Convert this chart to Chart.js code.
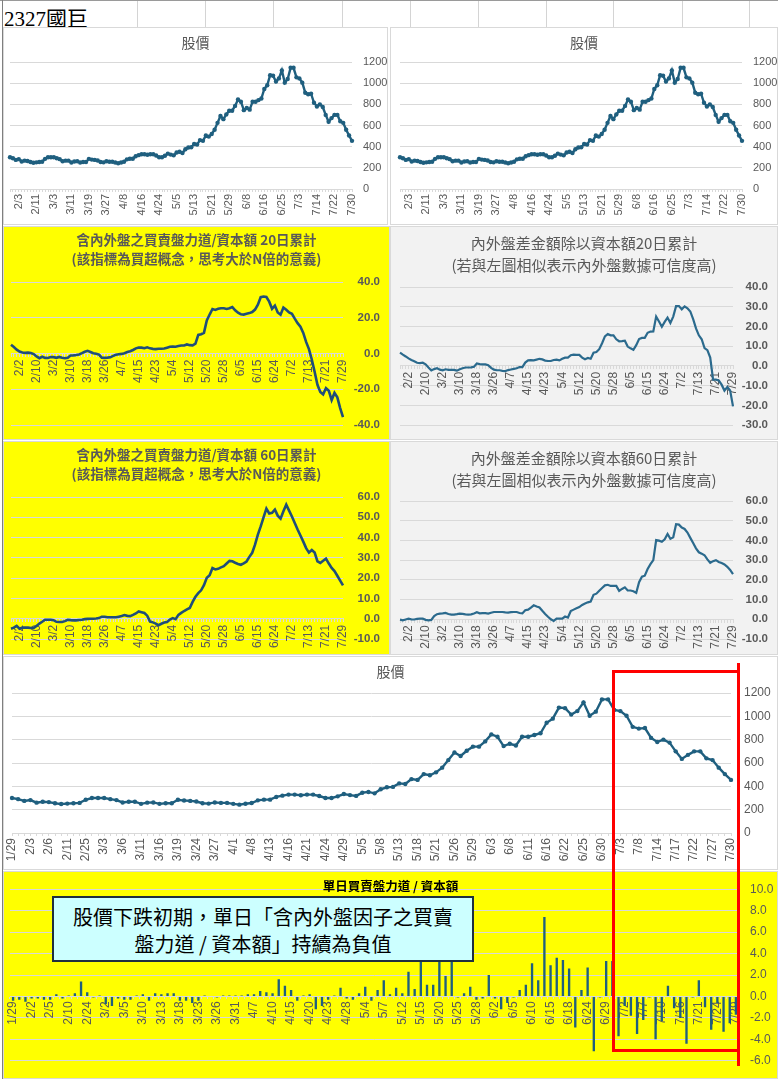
<!DOCTYPE html>
<html>
<head>
<meta charset="utf-8">
<script src="https://cdn.jsdelivr.net/npm/chart.js@4.4.1/dist/chart.umd.min.js"></script>
<style>
  body { margin: 0; width: 778px; height: 1079px; position: relative; overflow: hidden; background: #fff;
         font-family: "Noto Sans CJK TC", "Liberation Sans", sans-serif; }
  .panel { position: absolute; box-shadow: inset 0 0 0 1px #d9d9d9; }
  .panel .cv { position: absolute; left: 0; top: 0; width: 100%; height: 100%; }
  .ttl { position: absolute; left: 0; width: 100%; text-align: center; color: #595959; white-space: nowrap; z-index: 2; }
  .ttl.bold { font-weight: bold; font-size: 13.5px; line-height: 19px; }
  .ttl.reg { font-size: 15px; line-height: 22px; }
  .ttl.price { font-size: 14px; line-height: 20px; }
  .yellow { background: #ffff00; }
  .gray { background: #f2f2f2; }
  .white { background: #fff; }
  .vline { position: absolute; top: 1px; height: 26px; width: 1px; background: #d4d4d4; }
  #sheetTitle { position: absolute; left: 4px; top: 2px; font: 21px "Liberation Serif", "Noto Sans CJK TC", serif; color: #000; }
  #note { position: absolute; left: 52px; top: 896px; width: 422px; height: 66px; box-sizing: border-box;
          border: 2px solid #1f2f3f; background: #ccffff; text-align: center; font-size: 20px; line-height: 27px;
          padding-top: 5px; color: #000; z-index: 3; }
  #redBox { position: absolute; left: 612px; top: 670px; width: 128px; height: 382px; box-sizing: border-box;
            border: 3px solid #ff0000; z-index: 4; }
  #redLine { position: absolute; left: 737px; top: 663px; width: 3px; height: 403px; background: #ff0000; z-index: 4; }
  #barTitle { position: absolute; left: 0; width: 100%; top: 5px; text-align: center; font-size: 12.5px; font-weight: bold; color: #000; z-index: 2; }
</style>
</head>
<body>
<div style="position:absolute;left:0;top:0;width:778px;height:1px;background:#9a9a9a"></div>
<div style="position:absolute;left:2px;top:0;width:1px;height:1079px;background:#7f7f7f"></div>
<div id="sheetTitle">2327國巨</div>

<div class="panel white" style="left:3px;top:27px;width:385px;height:198px">
  <div class="ttl price" style="top:5px">股價</div>
  <div class="cv"><canvas id="priceA"></canvas></div>
</div>
<div class="panel white" style="left:390px;top:27px;width:388px;height:198px">
  <div class="ttl price" style="top:5px">股價</div>
  <div class="cv"><canvas id="priceB"></canvas></div>
</div>

<div class="panel yellow" style="left:3px;top:226px;width:387px;height:214px">
  <div class="ttl bold" style="top:4px">含內外盤之買賣盤力道/資本額 20日累計</div>
  <div class="ttl bold" style="top:23px">(該指標為買超概念，思考大於N倍的意義)</div>
  <div class="cv"><canvas id="cum20L"></canvas></div>
</div>
<div class="panel gray" style="left:390px;top:226px;width:388px;height:214px">
  <div class="ttl reg" style="top:6px">內外盤差金額除以資本額20日累計</div>
  <div class="ttl reg" style="top:28px">(若與左圖相似表示內外盤數據可信度高)</div>
  <div class="cv"><canvas id="cum20R"></canvas></div>
</div>

<div class="panel yellow" style="left:3px;top:441px;width:387px;height:214px">
  <div class="ttl bold" style="top:4px">含內外盤之買賣盤力道/資本額 60日累計</div>
  <div class="ttl bold" style="top:23px">(該指標為買超概念，思考大於N倍的意義)</div>
  <div class="cv"><canvas id="cum60L"></canvas></div>
</div>
<div class="panel gray" style="left:390px;top:441px;width:388px;height:214px">
  <div class="ttl reg" style="top:6px">內外盤差金額除以資本額60日累計</div>
  <div class="ttl reg" style="top:28px">(若與左圖相似表示內外盤數據可信度高)</div>
  <div class="cv"><canvas id="cum60R"></canvas></div>
</div>

<div class="panel white" style="left:3px;top:656px;width:775px;height:214px">
  <div class="ttl price" style="top:5px">股價</div>
  <div class="cv"><canvas id="priceBig"></canvas></div>
</div>

<div class="panel yellow" style="left:3px;top:871px;width:775px;height:208px">
  <div id="barTitle">單日買賣盤力道 / 資本額</div>
  <div class="cv"><canvas id="dailyBar"></canvas></div>
</div>

<div id="note">股價下跌初期，單日「含內外盤因子之買賣<br>盤力道 / 資本額」持續為負值</div>
<div id="redBox"></div>
<div id="redLine"></div>

<script>
const dates = ['1/29','1/30','2/1','2/3','2/4','2/5','2/6','2/7','2/8','2/11',
  '2/12','2/22','2/25','2/26','2/27','3/3','3/4','3/5','3/6','3/9',
  '3/10','3/11','3/12','3/13','3/16','3/17','3/18','3/19','3/20','3/23',
  '3/24','3/25','3/26','3/27','3/30','3/31','4/1','4/2','4/7','4/8',
  '4/9','4/10','4/13','4/14','4/15','4/16','4/17','4/20','4/21','4/22',
  '4/23','4/24','4/27','4/28','4/29','4/30','5/4','5/5','5/6','5/7',
  '5/8','5/11','5/12','5/13','5/14','5/15','5/18','5/19','5/20','5/21',
  '5/22','5/25','5/26','5/27','5/28','5/29','6/1','6/2','6/3','6/4',
  '6/5','6/8','6/9','6/10','6/11','6/12','6/15','6/16','6/17','6/19',
  '6/22','6/23','6/24','6/25','6/26','6/29','6/30','7/1','7/2','7/3',
  '7/6','7/7','7/8','7/9','7/13','7/14','7/15','7/16','7/17','7/20',
  '7/21','7/22','7/23','7/24','7/27','7/28','7/29','7/30'];

const price = [300,290,275,282,260,268,265,255,248,252,
  255,258,285,300,300,300,290,282,262,268,
  268,250,260,262,250,255,255,285,278,275,
  270,255,252,262,258,258,250,243,251,257,
  280,286,286,309,320,329,329,323,329,329,
  317,300,300,314,334,325,318,345,352,340,
  375,392,395,425,420,462,455,505,495,520,
  560,625,690,660,705,740,740,785,845,825,
  745,765,750,825,825,840,855,945,980,1075,
  1070,1015,1045,1120,1005,1040,1145,1145,1055,1045,
  1005,910,895,900,815,780,800,775,700,635,
  670,700,700,640,625,560,505,455];

// 含內外盤之買賣盤力道/資本額 20日累計
const cum20Buy = [4.9,3.6,2.2,1.1,0.6,0.4,0.5,0.3,-0.3,-1.6,
  -2.6,-1.8,-2.4,-2.5,-2.0,-2.0,-2.4,-1.9,-2.4,-2.6,
  -2.3,-1.1,-1.0,-0.8,-0.5,0.2,1.0,1.5,0.9,0.2,
  -0.1,-0.6,-2.3,-2.4,-2.3,-2.1,-1.3,-0.7,-0.4,-0.2,
  0.2,0.9,1.3,2.0,2.9,3.4,3.3,3.0,3.5,2.9,
  2.6,2.5,2.7,2.7,2.8,3.3,3.8,3.9,3.8,4.2,
  4.5,4.5,5.1,4.7,4.6,5.5,10.4,10.8,11.6,18.5,
  21.8,24.9,24.4,25.0,25.3,25.3,24.9,25.3,26.0,24.2,
  22.8,22.0,21.8,22.2,22.6,23.2,24.6,27.3,31.5,31.9,
  31.6,29.0,25.0,26.8,23.0,21.7,25.7,24.5,23.0,22.2,
  19.5,17.0,15.0,11.5,6.5,2.5,-3.3,-10.2,-17.5,-21.5,
  -22.8,-19.3,-20.8,-26.0,-22.0,-24.5,-30.5,-35.6];

// 內外盤差金額除以資本額 20日累計
const cum20Diff = [6.7,5.7,4.8,3.8,3.0,2.4,1.6,1.4,1.6,0.8,
  -0.8,-2.3,-1.6,-1.2,-1.9,-2.2,-1.7,-2.0,-2.0,-2.0,
  -2.4,-1.7,-1.2,-0.8,-0.8,-0.7,-0.4,1.2,0.9,0.8,
  0.8,0.4,-1.0,-1.9,-2.2,-2.2,-2.5,-2.6,-2.1,-1.8,
  -1.5,-1.2,-0.6,-0.6,1.7,2.8,2.9,2.8,3.2,3.6,
  3.3,2.7,2.5,2.5,3.0,3.2,2.8,3.6,4.2,4.2,
  5.4,5.7,5.6,5.6,4.2,3.4,4.0,3.6,6.7,7.0,
  8.5,11.5,15.0,16.2,15.5,15.5,13.5,12.5,12.6,12.8,
  9.8,8.9,8.2,10.5,13.6,14.2,14.2,16.8,17.4,17.5,
  25.0,22.5,19.8,22.3,24.5,21.8,25.0,30.3,30.3,28.7,
  30.2,29.2,27.6,23.7,19.0,15.5,13.5,9.0,8.0,4.2,
  -7.0,-7.0,-7.4,-9.5,-12.5,-10.7,-12.5,-20.5];

// 含內外盤之買賣盤力道/資本額 60日累計
const cum60Buy = [-4.9,-4.4,-3.5,-4.9,-4.4,-4.3,-4.4,-4.6,-4.6,-3.6,
  -2.4,-1.5,-0.5,-0.5,-0.5,-0.7,-1.5,-1.6,-1.6,-1.2,
  -0.5,-0.7,-0.8,-0.8,-0.6,-0.5,-0.2,-0.1,0.0,0.0,
  0.1,0.3,1.0,1.0,0.7,0.7,0.7,0.7,1.0,1.3,
  1.8,1.4,1.3,1.9,2.6,3.6,3.2,2.8,1.5,-1.4,
  -1.8,-2.4,-3.2,-2.5,-1.9,-1.6,-0.4,0.3,-0.2,1.9,
  2.9,3.8,4.6,5.3,8.3,10.8,12.6,14.0,16.5,20.2,
  21.4,25.0,24.3,24.6,25.3,25.9,27.2,28.5,28.3,27.6,
  27.0,26.6,27.3,28.2,30.5,32.5,36.5,41.5,45.5,50.0,
  54.3,51.9,52.2,53.8,50.8,49.3,53.0,56.2,53.3,50.4,
  47.2,44.0,41.0,38.0,34.8,32.6,33.9,32.6,28.3,27.5,
  28.6,29.6,27.2,25.0,23.5,21.2,18.8,16.4];

// 內外盤差金額除以資本額 60日累計
const cum60Diff = [-0.2,-0.5,-0.1,0.3,0.0,-0.1,0.2,0.3,0.3,-0.3,
  -0.5,-0.3,1.6,2.6,2.9,3.0,3.2,2.7,2.4,2.4,
  2.6,2.9,2.7,2.5,2.4,2.5,2.9,3.6,3.0,3.1,
  3.1,2.9,3.3,3.7,3.7,3.7,3.7,3.5,3.4,3.6,
  3.7,3.7,3.2,3.0,4.6,4.9,5.9,7.1,6.5,6.0,
  4.3,2.7,1.3,0.0,-0.8,0.3,0.3,0.3,1.4,0.9,
  4.2,4.9,5.6,6.2,7.3,8.0,8.6,9.0,12.4,13.0,
  14.5,15.9,17.2,17.5,16.9,16.9,16.9,14.4,15.4,16.2,
  14.6,14.6,14.2,13.4,18.8,21.6,22.1,25.5,28.0,30.0,
  40.2,39.9,39.3,40.6,43.3,40.8,41.6,48.2,48.0,46.5,
  45.8,44.0,41.3,38.7,36.0,34.0,33.3,32.5,30.4,28.6,
  29.5,30.0,29.1,28.5,27.8,26.6,25.0,22.9];

// 單日買賣盤力道 / 資本額
const dailyBuy = [-0.4,-0.3,-0.5,-0.2,-0.2,-0.3,-0.3,0.2,-0.2,0.1,
  0.3,1.4,0.4,-0.1,0.1,-0.7,-0.9,-0.2,-0.3,-0.3,
  0.1,0.2,-0.4,0.3,0.2,0.3,0.3,-0.4,-0.4,-0.6,
  -0.4,0.1,-0.05,-0.1,0.1,0.1,0.1,0.1,0.2,0.2,
  0.5,0.4,0.3,1.6,1.0,0.6,-0.4,0.1,0.2,-1.2,
  -0.9,-0.3,0.1,0.8,-0.2,-0.3,0.3,0.9,-0.4,0.6,
  1.5,0.2,0.8,0.3,2.3,0.7,4.2,1.1,1.1,3.6,
  1.9,3.3,-0.1,0.3,0.9,-0.3,-0.2,2.0,-0.2,-1.2,
  -0.6,-0.1,0.6,1.1,3.1,1.5,7.4,2.9,3.6,3.4,
  2.6,-2.9,0.6,2.7,-5.1,-0.1,3.3,3.3,-3.7,-0.9,
  -1.8,-3.5,-2.2,-0.1,-4.0,-2.3,1.0,-1.1,-2.0,-4.4,
  -0.1,1.5,-1.0,-3.1,-0.6,-3.3,-2.5,-1.7];

const cumTicks = ['2/2','2/10','3/2','3/10','3/18','3/26','4/7','4/15','4/23','5/4',
  '5/12','5/20','5/28','6/5','6/15','6/24','7/2','7/13','7/21','7/29'];
const barTicks = ['1/29','2/2','2/5','2/10','2/24','3/2','3/5','3/10','3/13','3/18',
  '3/23','3/26','3/31','4/7','4/10','4/15','4/20','4/23','4/28','5/4',
  '5/7','5/12','5/15','5/20','5/25','5/28','6/2','6/5','6/10','6/15',
  '6/18','6/24','6/29','7/2','7/7','7/10','7/16','7/21','7/24','7/29'];

const GRID = '#d9d9d9';
const PRICE_C = '#1f5f7f';
Chart.defaults.font.family = '"Liberation Sans", "Noto Sans CJK TC", sans-serif';
Chart.defaults.color = '#595959';
Chart.defaults.animation = false;
Chart.defaults.plugins.legend.display = false;
Chart.defaults.plugins.tooltip.enabled = false;

function priceChart(id, pad, yWidth, xHeight, every, offset, size, yPad) {
  return new Chart(document.getElementById(id), {
    type: 'line',
    data: {
      labels: dates,
      datasets: [{data: price, borderColor: PRICE_C, backgroundColor: PRICE_C, borderWidth: 2.4,
                  pointRadius: 2.2, pointBorderWidth: 0, tension: 0}]
    },
    options: {
      responsive: true, maintainAspectRatio: false,
      layout: {padding: pad},
      scales: {
        x: {
          ticks: {autoSkip: false, minRotation: 90, maxRotation: 90, padding: 2, font: {size: size},
                  callback: (v, i) => i % every === offset ? dates[i] : ''},
          grid: {drawOnChartArea: false, color: GRID, tickLength: 3},
          border: {color: GRID},
          afterFit: s => { s.height = xHeight; }
        },
        y: {
          position: 'right', min: 0, max: 1200,
          ticks: {stepSize: 200, padding: yPad, font: {size: size}, callback: v => String(v)},
          grid: {color: GRID, drawTicks: false},
          border: {display: false},
          afterFit: s => { s.width = yWidth; }
        }
      }
    }
  });
}

function cumChart(id, values, color, lw, yMin, yMax, step, pad, yWidth) {
  return new Chart(document.getElementById(id), {
    type: 'line',
    data: {
      labels: dates,
      datasets: [{data: values, borderColor: color, borderWidth: lw, pointRadius: 0, tension: 0}]
    },
    options: {
      responsive: true, maintainAspectRatio: false,
      layout: {padding: pad},
      scales: {
        x: {
          position: {y: 0},
          ticks: {autoSkip: false, minRotation: 90, maxRotation: 90, padding: 3, font: {size: 12},
                  callback: (v, i) => i % 6 === 3 ? cumTicks[(i - 3) / 6] : ''},
          grid: {drawOnChartArea: false, color: GRID, tickLength: 3},
          border: {color: GRID}
        },
        y: {
          position: 'right', min: yMin, max: yMax,
          ticks: {stepSize: step, padding: 8, crossAlign: 'far', font: {size: 11.5, weight: 'bold'},
                  callback: v => v.toFixed(1)},
          grid: {color: GRID, drawTicks: false},
          border: {display: false},
          afterFit: s => { s.width = yWidth; }
        }
      }
    }
  });
}

priceChart('priceA', {left: 7, top: 35, right: 0, bottom: 0}, 36, 36, 6, 3, 11, 11);
priceChart('priceB', {left: 10, top: 35, right: 0, bottom: 0}, 36, 36, 6, 3, 11, 11);

cumChart('cum20L', cum20Buy, '#1f4e79', 2.6, -40, 40, 20, {left: 8, top: 56, right: 10, bottom: 13}, 37);
cumChart('cum20R', cum20Diff, '#2b6a8d', 2.2, -30, 40, 10, {left: 10, top: 61, right: 10, bottom: 13}, 35);
cumChart('cum60L', cum60Buy, '#1f4e79', 2.6, -10, 60, 10, {left: 8, top: 56, right: 10, bottom: 16}, 37);
cumChart('cum60R', cum60Diff, '#2b6a8d', 2.2, -10, 60, 10, {left: 10, top: 60, right: 10, bottom: 16}, 35);

priceChart('priceBig', {left: 9, top: 37, right: 0, bottom: 0}, 47, 37, 3, 0, 12, 13);

new Chart(document.getElementById('dailyBar'), {
  type: 'bar',
  data: {
    labels: dates,
    datasets: [{data: dailyBuy, backgroundColor: PRICE_C, barPercentage: 0.38, categoryPercentage: 1}]
  },
  options: {
    responsive: true, maintainAspectRatio: false,
    layout: {padding: {left: 7, top: 10, right: 0, bottom: 13}},
    scales: {
      x: {
        position: {y: 0},
        ticks: {autoSkip: false, minRotation: 90, maxRotation: 90, padding: 3, font: {size: 12},
                callback: (v, i) => i % 3 === 0 ? barTicks[i / 3] : ''},
        grid: {drawOnChartArea: false, color: GRID, tickLength: 2},
        border: {color: GRID}
      },
      y: {
        position: 'right', min: -6, max: 10,
        ticks: {stepSize: 2, padding: 11, font: {size: 12}, callback: v => v.toFixed(1)},
        grid: {color: GRID, drawTicks: false},
        border: {display: false},
        afterFit: s => { s.width = 39; }
      }
    }
  }
});

// sheet column lines in the header row
[137, 205, 273, 342, 410, 478, 546, 613, 682, 749].forEach(x => {
  const d = document.createElement('div');
  d.className = 'vline';
  d.style.left = x + 'px';
  document.body.appendChild(d);
});
</script>
</body>
</html>
